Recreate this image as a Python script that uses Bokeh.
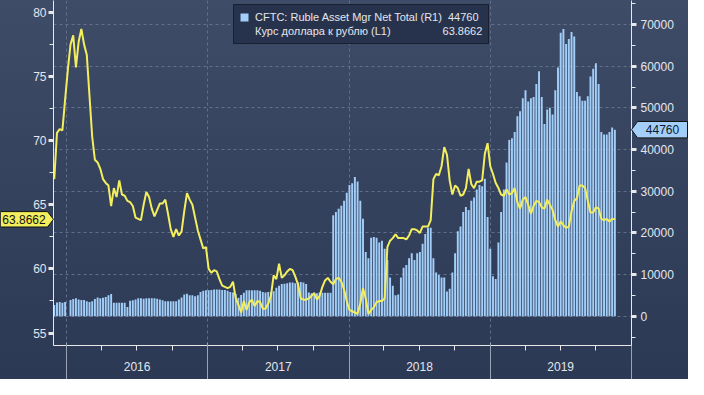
import pandas as pd
from bokeh.plotting import figure
from bokeh.layouts import row
from bokeh.core.properties import value
from bokeh.models import (Range1d, LinearAxis, FixedTicker, Grid, Legend, LegendItem,
                          ColumnDataSource, CustomJSTickFormatter)
from bokeh.embed import file_html
from bokeh.resources import INLINE

# ---------------- data ----------------
start_date = "2015-12-01"
n_weeks = 208

cftc_net = [2700, 3300, 3400, 3200, 3400, 0, 3900, 4100, 4300, 4000, 3900, 3900, 3600, 3400, 3600,
            4100, 4500, 4300, 4400, 4600, 5000, 5300, 3200, 3200, 3200, 3200, 3200, 2200, 3700, 3800,
            4000, 4300, 4300, 4200, 4300, 4300, 4300, 4300, 4200, 4000, 3800, 3600, 3600, 3600, 3600,
            3600, 4000, 4500, 5200, 5400, 5000, 5000, 4800,
            5000, 5800, 6100, 6200, 6200, 6300, 6400, 6400, 6400, 6300, 6300, 6100, 5800, 5700, 5300,
            4400, 5100, 5600, 6200, 6200, 6200, 6200, 6200, 6100, 5800, 5700, 5800, 5800, 6000, 6800,
            7300, 7700, 7800, 7900, 8100, 8100, 7900, 8100, 8200, 8100, 7700, 5700, 5500, 5700, 5500,
            5700, 5600, 5600, 5600, 5600, 24200,
            25000, 25800, 26500, 27700, 29600, 31500, 31900, 33400, 32300, 27700, 23400, 15400, 13900,
            18800, 19000, 18800, 17700, 18100, 16200, 13500, 9300, 7300, 5000, 5200, 9300, 11600,
            12300, 13900, 15100, 13500, 15100, 15400, 17400, 19700, 21200, 21200, 13900, 10500, 9900,
            9300, 9300, 5900, 6600, 10500, 15100, 20400, 21500, 25000, 26200, 25500, 27700, 28500,
            30400, 31500,
            31200, 33000, 23800, 16200, 9600, 8900, 17700, 25000, 30400, 36900, 42300, 42700, 44200,
            48000, 49200, 52300, 54200, 51500, 52300, 52600, 55700, 58800, 52600, 46100, 49600, 50000,
            48400, 54200, 59700, 68000, 68900, 65300, 66500, 68200, 67100, 53800, 52800, 51700, 51700,
            52800, 57500, 59400, 60700, 55700, 44200, 43600, 43600, 44200, 45300, 44760]

usd_rub = [67.0, 70.6, 70.9, 70.8, 73.2, 75.5, 77.5, 78.2, 75.7, 77.7, 78.7, 77.5, 76.7, 73.5, 70.3,
           68.5, 68.3, 67.8, 67.0, 66.7, 66.5, 64.9, 66.3, 65.6, 66.9, 65.8, 65.7, 65.3, 65.2, 64.9,
           64.0, 63.9, 63.8, 65.0, 66.0, 65.6, 64.7, 64.1, 64.6, 65.1, 65.1, 65.4, 64.3, 63.1, 62.5,
           63.1, 62.6, 62.9, 64.5, 65.9, 65.4, 65.0, 64.0,
           63.0, 62.3, 61.6, 61.7, 60.0, 59.7, 59.9, 59.8, 59.2, 58.7, 58.6, 58.5, 58.6, 59.0, 57.7,
           57.2, 56.6, 57.5, 56.8, 57.4, 57.6, 57.1, 57.5, 57.4, 56.9, 56.9, 57.3, 57.9, 59.5, 59.2,
           60.4, 59.3, 59.5, 59.8, 60.0, 59.9, 59.4, 58.8, 57.7, 57.6, 57.6, 57.7, 57.9, 58.1, 57.6,
           57.9, 58.6, 59.1, 59.3, 59.0, 58.8,
           59.2, 59.3, 59.0, 58.4, 57.5, 56.8, 56.7, 56.6, 56.5, 57.3, 58.5, 57.7, 56.5, 56.8, 57.0,
           57.4, 57.5, 57.5, 57.7, 61.7, 62.2, 62.4, 62.7, 62.4, 62.4, 62.4, 62.3, 62.6, 63.1, 63.1,
           63.0, 62.8, 63.3, 63.3, 63.3, 63.8, 67.0, 67.4, 67.3, 68.0, 69.5, 68.9, 66.9, 65.8, 66.5,
           66.3, 65.7, 65.8, 66.3, 67.8, 66.6, 66.3, 66.8, 66.8,
           66.9, 69.0, 69.8, 68.0, 67.4, 66.7, 66.3, 65.8, 65.7, 66.2, 65.8, 65.9, 66.3, 65.2, 64.7,
           65.4, 65.6, 65.0, 64.3, 64.9, 65.3, 65.2, 64.8, 64.7, 65.4, 65.0, 64.6, 63.8, 63.3, 63.7,
           63.4, 63.2, 63.3, 64.5, 65.3, 65.5, 66.5, 66.5, 66.3, 65.3, 64.4, 64.4, 64.8, 64.7, 63.9,
           63.8, 63.9, 63.7, 63.9, 63.8662]

years = ["2016", "2017", "2018", "2019"]
year_bounds = ["2016-01-01", "2017-01-01", "2018-01-01", "2019-01-01", "2020-01-01"]
quarter_ticks = [f"{y}-{m}-01" for y in years for m in ("04", "07", "10")]
left_ticks = [55, 60, 65, 70, 75, 80]
left_minor = [57.5, 62.5, 67.5, 72.5, 77.5]
right_ticks = [0, 10000, 20000, 30000, 40000, 50000, 60000, 70000]
right_minor = [-5000, 5000, 15000, 25000, 35000, 45000, 55000, 65000, 75000]

series_bar_name = "CFTC: Ruble Asset Mgr Net Total (R1)"
series_line_name = "Курс доллара к рублю (L1)"

# ---------------- style ----------------
FONT = "Liberation Sans"
TXT = "#e3e6ec"
BLUE = "#a2cef8"
YELLOW = "#f3ee5e"
GRID = "#66748f"
FIG_SP = "\u2007"   # digit-wide space
NB_SP = "\u00a0"


def ms(d):
    return float(pd.Timestamp(d).value // 10**6)


dates = pd.date_range(start_date, periods=n_weeks, freq="7D")
src = ColumnDataSource(dict(date=dates, cftc=cftc_net, rub=usd_rub))

W, H = 688, 379
ML, MR, MT, MB = 53, 57, 0, 34
FW, FH = W - ML - MR, H - MT - MB
FRAME_R = W - MR
L_RANGE = (54.03, 80.92)
R_RANGE = (-7034, 75766)

p = figure(width=W, height=H, x_axis_type="datetime",
           x_range=Range1d(ms("2015-11-29"), ms("2020-01-01")),
           y_range=Range1d(*L_RANGE),
           output_backend="svg", toolbar_location=None,
           min_border_left=ML, min_border_right=MR, min_border_top=MT, min_border_bottom=MB,
           background_fill_alpha=0, border_fill_alpha=0, outline_line_color=None)
p.styles = {"background": "linear-gradient(180deg, #3f4c68 0%, #36435f 45%, #2b3954 100%)"}
p.extra_y_ranges = {"right": Range1d(*R_RANGE)}

# grids
p.ygrid.visible = False
p.xgrid.ticker = FixedTicker(ticks=[ms(d) for d in year_bounds])
p.xgrid.grid_line_color = GRID
p.xgrid.grid_line_dash = "3 3"
p.xgrid.grid_line_alpha = 0.9
rgrid = Grid(dimension=1, ticker=FixedTicker(ticks=right_ticks), y_range_name="right",
             grid_line_color=GRID, grid_line_dash="3 3", grid_line_alpha=0.9)
p.add_layout(rgrid)

# x axis (inner): year names at mid-year, quarter minor ticks
xa = p.xaxis[0]
mid_ms = [ms(f"{y}-07-02") for y in years]
xa.ticker = FixedTicker(ticks=mid_ms, minor_ticks=[ms(d) for d in quarter_ticks])
xa.major_label_overrides = {t: y for t, y in zip(mid_ms, years)}
xa.axis_line_color = "#e8e8e8"
xa.major_tick_in = 0
xa.major_tick_out = 0
xa.minor_tick_in = 0
xa.minor_tick_out = 5
xa.minor_tick_line_color = "#e8e8e8"
xa.major_label_standoff = 11
xa.major_label_text_color = TXT
xa.major_label_text_font = FONT
xa.major_label_text_font_size = "12px"

# x axis (outer): year separators drawn as long inward ticks
xb = LinearAxis(ticker=FixedTicker(ticks=[ms(d) for d in year_bounds], minor_ticks=[]),
                formatter=CustomJSTickFormatter(code="return ''"))
xb.axis_line_color = None
xb.major_tick_in = 31
xb.major_tick_out = 6
xb.major_tick_line_color = "#9aa3b4"
xb.minor_tick_line_color = None
xb.major_label_text_font_size = "1px"
xb.major_label_standoff = 0
p.add_layout(xb, "below")

# left axis
ya = p.yaxis[0]
ya.ticker = FixedTicker(ticks=left_ticks, minor_ticks=left_minor)
ya.axis_line_color = "#e8e8e8"
ya.major_tick_in = 0
ya.major_tick_out = 5
ya.major_tick_line_width = 3
ya.major_tick_line_color = "#e8e8e8"
ya.minor_tick_in = 0
ya.minor_tick_out = 4
ya.minor_tick_line_color = "#e8e8e8"
ya.major_label_standoff = 2
ya.major_label_text_color = TXT
ya.major_label_text_font = FONT
ya.major_label_text_font_size = "12px"

# right axis
ra = LinearAxis(y_range_name="right", ticker=FixedTicker(ticks=right_ticks, minor_ticks=right_minor))
ra.axis_line_color = "#e8e8e8"
ra.major_tick_in = 0
ra.major_tick_out = 5
ra.major_tick_line_width = 3
ra.major_tick_line_color = "#e8e8e8"
ra.minor_tick_in = 0
ra.minor_tick_out = 4
ra.minor_tick_line_color = "#e8e8e8"
ra.major_label_standoff = 4
ra.major_label_text_color = TXT
ra.major_label_text_font = FONT
ra.major_label_text_font_size = "12px"
p.add_layout(ra, "right")

# data
bars = p.vbar(x="date", top="cftc", bottom=0, width=5 * 86400000, source=src,
              y_range_name="right", fill_color=BLUE, line_color=None)
line = p.line(x="date", y="rub", source=src, line_color=YELLOW, line_width=2)
legend_patch = p.vbar(x=[], top=[], width=1, fill_color=YELLOW, line_color=None)

# legend (values right-aligned with fixed-width spaces)
vr = cftc_net[-1]
vl = usd_rub[-1]
lab1 = series_bar_name + FIG_SP + f"{vr}"
lab2 = series_line_name + FIG_SP * 8 + NB_SP + f"{vl:.4f}"
leg = Legend(items=[LegendItem(label=lab1, renderers=[bars]),
                    LegendItem(label=lab2, renderers=[legend_patch])],
             location=(180, FH - 6 - 38), orientation="vertical",
             background_fill_color="#27334c", background_fill_alpha=1,
             border_line_color="#0b0e14", border_line_width=1,
             label_text_color=TXT, label_text_font=FONT, label_text_font_size="11px",
             glyph_width=10, glyph_height=10, label_height=14, label_standoff=6,
             padding=5, spacing=0, margin=0, label_width=228)
p.add_layout(leg)

# ---------------- overlay figure for the last-value tags on the axes ----------------
# frame spans the full width (x in canvas pixels) and the same height/value ranges as the main frame
ov = figure(width=W, height=H, x_range=Range1d(0, W), y_range=Range1d(*L_RANGE),
            output_backend="svg", toolbar_location=None,
            x_axis_location=None, y_axis_location=None,
            min_border_left=0, min_border_right=0, min_border_top=MT, min_border_bottom=MB,
            background_fill_alpha=0, border_fill_alpha=0, outline_line_color=None)
ov.grid.visible = False
ov.extra_y_ranges = {"right": Range1d(*R_RANGE)}
ov.styles = {"position": "absolute", "left": "0px", "top": "0px"}

L_PX = (L_RANGE[1] - L_RANGE[0]) / FH
R_PX = (R_RANGE[1] - R_RANGE[0]) / FH
hl = 7.7 * L_PX
ov.patch(x=[0, ML - 6, ML, ML - 6, 0], y=[vl - hl, vl - hl, vl, vl + hl, vl + hl],
         fill_color=YELLOW, line_color="#111111", line_width=1)
ov.text(x=[ML / 2 - 3], y=[vl], text=[f"{vl:.4f}"], text_align="center", text_baseline="middle",
        text_color="#111111", text_font=value(FONT), text_font_size="12px")

hr = 8.2 * R_PX
ov.patch(x=[FRAME_R, FRAME_R + 6, W - 1, W - 1, FRAME_R + 6], y=[vr, vr - hr, vr - hr, vr + hr, vr + hr],
         y_range_name="right", fill_color=BLUE, line_color="#111111", line_width=1)
ov.text(x=[FRAME_R + 31], y=[vr], text=[f"{vr}"], y_range_name="right",
        text_align="center", text_baseline="middle",
        text_color="#0d1a33", text_font=value(FONT), text_font_size="12px")

layout = row(p, ov)
open("out.html", "w").write(file_html(layout, INLINE))
